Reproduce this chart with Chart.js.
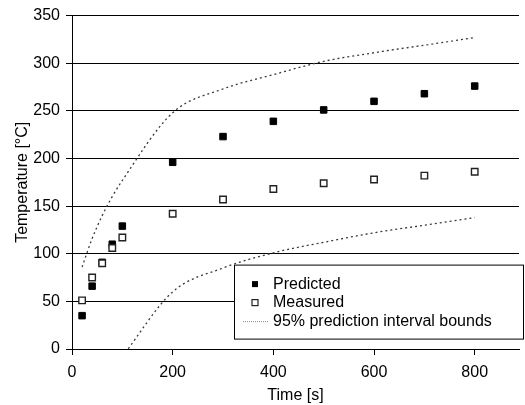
<!DOCTYPE html>
<html>
<head>
<meta charset="utf-8">
<script src="https://cdn.jsdelivr.net/npm/chart.js@4/dist/chart.umd.min.js"></script>
<style>
  html, body { margin: 0; padding: 0; background: #fff; }
  #wrap { width: 525px; height: 405px; }
</style>
</head>
<body>
<div id="wrap"><canvas id="c" width="525" height="405"></canvas></div>
<script>
// ---- data ----
const timeValues   = [20, 40, 60, 80, 100, 200, 300, 400, 500, 600, 700, 800];
const predicted    = [35, 66, 91, 110, 129, 196, 223, 239, 251, 260, 268, 276];
const measured     = [51, 75, 90, 106, 117, 142, 157, 168, 174, 178, 182, 186];
const upperBound   = [86, 116, 140, 160, 177, 248, 273, 288, 302, 311, 319, 327];
const lowerBound   = [null, null, null, null, -8, 60, 85, 101, 112, 122, 130, 138];
const seriesLabels = ['Predicted', 'Measured', '95% prediction interval bounds'];
const yTicks = [0, 50, 100, 150, 200, 250, 300, 350];
const xTicks = [0, 200, 400, 600, 800];

const toPts = (ys) => timeValues.map((x, i) => ({ x: x, y: ys[i] }));

const FONT = "'Liberation Sans', Arial, Helvetica, sans-serif";
Chart.defaults.font.family = FONT;
Chart.defaults.font.size = 16;
Chart.defaults.color = '#000';

const DOT_COLOR = '#3a3a3a';
const DOT_DASH = [2, 3];

const insideLegend = {
  id: 'insideLegend',
  afterDatasetsDraw(chart) {
    const ctx = chart.ctx;
    const ca = chart.chartArea;
    const bx = ca.left + 162, by = ca.top + 249;
    const bw = 289, bh = 74;
    ctx.save();
    ctx.fillStyle = '#fff';
    ctx.fillRect(bx, by, bw, bh);
    ctx.strokeStyle = '#000';
    ctx.lineWidth = 1;
    ctx.strokeRect(bx + 0.5, by + 0.5, bw, bh);
    const mx = bx + 21, tx = bx + 39;
    const rows = [by + 19.5, by + 38, by + 56.5];
    // Predicted marker
    ctx.fillStyle = '#000';
    ctx.fillRect(mx - 3, rows[0] - 3, 6, 6);
    // Measured marker
    ctx.fillStyle = '#fff';
    ctx.fillRect(mx - 3, rows[1] - 3, 6, 6);
    ctx.strokeStyle = '#222';
    ctx.lineWidth = 1.2;
    ctx.strokeRect(mx - 3, rows[1] - 3, 6, 6);
    // Bounds line sample
    ctx.strokeStyle = '#888';
    ctx.lineWidth = 1;
    ctx.setLineDash([1, 1]);
    ctx.beginPath();
    ctx.moveTo(bx + 9, rows[2] + 0.5);
    ctx.lineTo(tx - 4, rows[2] + 0.5);
    ctx.stroke();
    ctx.setLineDash([]);
    // Text
    ctx.fillStyle = '#000';
    ctx.font = '16px ' + FONT;
    ctx.textAlign = 'left';
    ctx.textBaseline = 'middle';
    seriesLabels.forEach((t, i) => ctx.fillText(t, tx, rows[i]));
    ctx.restore();
  }
};

new Chart(document.getElementById('c'), {
  type: 'scatter',
  data: {
    datasets: [
      {
        label: seriesLabels[0],
        data: toPts(predicted),
        pointStyle: 'rect',
        pointRadius: 4.6,
        pointBackgroundColor: '#000',
        pointBorderColor: '#000',
        pointBorderWidth: 1,
        order: 2
      },
      {
        label: seriesLabels[1],
        data: toPts(measured),
        pointStyle: 'rect',
        pointRadius: 4.6,
        pointBackgroundColor: '#fff',
        pointBorderColor: '#222',
        pointBorderWidth: 1.4,
        order: 1
      },
      {
        label: seriesLabels[2],
        data: toPts(upperBound),
        showLine: true,
        pointRadius: 0,
        borderColor: DOT_COLOR,
        borderWidth: 1.3,
        borderDash: DOT_DASH,
        cubicInterpolationMode: 'monotone',
        order: 3
      },
      {
        label: seriesLabels[2] + ' (lower)',
        data: toPts(lowerBound),
        showLine: true,
        pointRadius: 0,
        borderColor: DOT_COLOR,
        borderWidth: 1.3,
        borderDash: DOT_DASH,
        cubicInterpolationMode: 'monotone',
        order: 3
      }
    ]
  },
  options: {
    responsive: false,
    animation: false,
    events: [],
    layout: { padding: { top: 15, left: 0, right: 0, bottom: 0 } },
    plugins: {
      legend: { display: false },
      tooltip: { enabled: false }
    },
    scales: {
      x: {
        type: 'linear',
        min: 0,
        max: 888,
        afterBuildTicks(scale) { scale.ticks = xTicks.map(v => ({ value: v })); },
        afterFit(scale) { scale.height = 56; },
        ticks: { includeBounds: false, padding: 8, color: '#000', font: { size: 16 }, maxRotation: 0 },
        grid: { drawOnChartArea: false, drawTicks: true, tickLength: 6, color: '#000', lineWidth: 1 },
        border: { display: true, color: '#000', width: 1 },
        title: { display: true, text: 'Time [s]', color: '#000', font: { size: 16 }, padding: { top: 0, bottom: 0 } }
      },
      y: {
        type: 'linear',
        min: 0,
        max: 350,
        afterBuildTicks(scale) { scale.ticks = yTicks.map(v => ({ value: v })); },
        afterFit(scale) { scale.width = 72; },
        ticks: { padding: 6, color: '#000', font: { size: 16 } },
        grid: { drawOnChartArea: true, drawTicks: true, tickLength: 6, color: '#000', lineWidth: 1 },
        border: { display: true, color: '#000', width: 1 },
        title: { display: true, text: 'Temperature [°C]', color: '#000', font: { size: 16 }, padding: { top: 13, bottom: 0 } }
      }
    }
  },
  plugins: [insideLegend]
});
</script>
</body>
</html>
